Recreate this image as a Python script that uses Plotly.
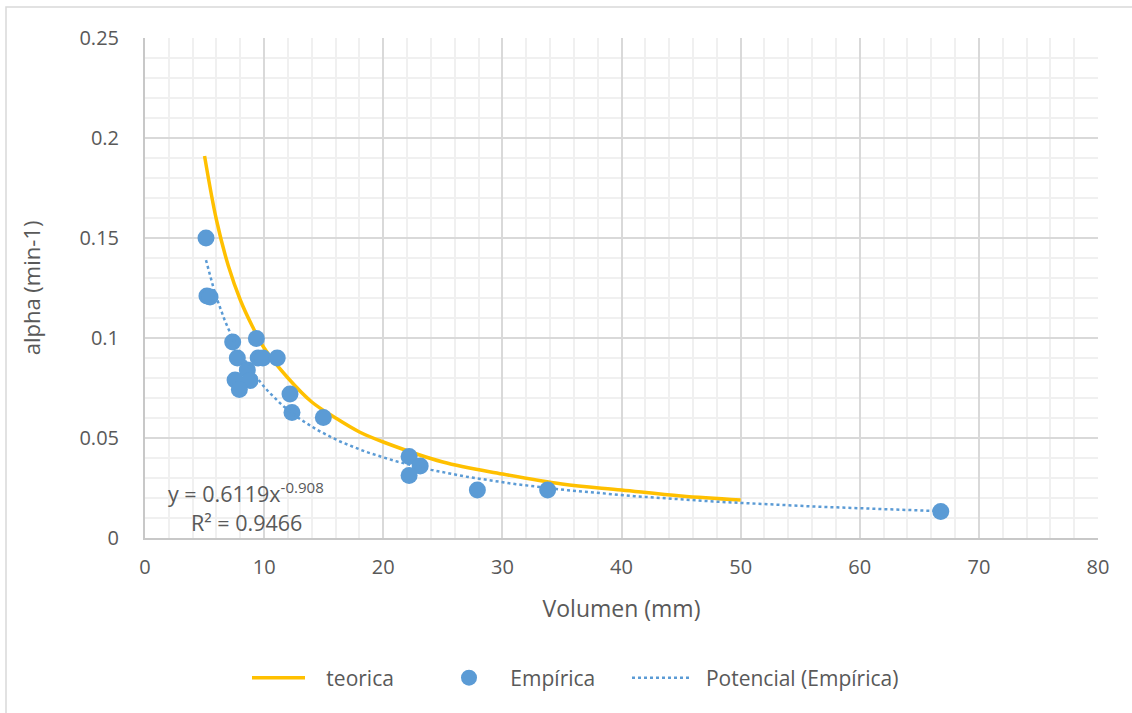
import numpy as np
import plotly.graph_objects as go

# Empirical data (Volumen mm, alpha min-1)
emp_x = [5.12, 5.2, 5.46, 7.36, 9.35, 7.75, 9.5, 9.9, 11.1, 8.59, 7.56, 8.82, 7.92,
         12.17, 12.34, 14.97, 22.17, 23.1, 22.17, 27.9, 33.8, 66.8]
emp_y = [0.150, 0.121, 0.1205, 0.098, 0.0998, 0.090, 0.090, 0.090, 0.090, 0.084, 0.079,
         0.0787, 0.0743, 0.072, 0.0627, 0.0603, 0.0407, 0.036, 0.0312, 0.024, 0.024, 0.0133]

# Theoretical curve
teo_x = [5, 6, 7, 8, 9, 10, 12, 14, 16, 18, 20, 25, 30, 35, 40, 45, 50]
teo_y = [0.191, 0.159, 0.136, 0.119, 0.106, 0.095, 0.080, 0.068, 0.060, 0.053, 0.048,
         0.038, 0.032, 0.027, 0.024, 0.021, 0.019]

eq_text = "y = 0.6119x<sup>-0.908</sup>"
r2_text = "R² = 0.9466"

# Power trendline fitted to the empirical data (log-log regression)
lx = np.log(emp_x)
ly = np.log(emp_y)
b, ln_a = np.polyfit(lx, ly, 1)
tr_x = np.linspace(min(emp_x), max(emp_x), 200)
tr_y = np.exp(ln_a) * tr_x ** b

FONT = "Open Sans"
GREY = "#595959"
BLUE = "#5b9bd5"
NB = "\u00a0"

W, H = 1132, 713
L, R, T, B = 145, 34, 38, 175
pw, ph = W - L - R, H - T - B


def px2paper(px, py):
    return (px - L) / pw, (H - B - py) / ph


fig = go.Figure()
fig.add_trace(go.Scatter(x=teo_x, y=teo_y, mode="lines", name=NB * 3 + "teorica",
                         line=dict(color="#ffc000", width=3.5, shape="spline"),
                         legend="legend"))
fig.add_trace(go.Scatter(x=emp_x, y=emp_y, mode="markers", name=NB * 3 + "Empírica",
                         marker=dict(color=BLUE, size=17), legend="legend2"))
fig.add_trace(go.Scatter(x=tr_x, y=tr_y, mode="lines", name=NB * 2 + "Potencial (Empírica)",
                         line=dict(color=BLUE, width=2.5, dash="dot"), legend="legend3"))

x0, y0 = px2paper(6, 7)
x1, y1 = px2paper(1160, 740)
ly_ = px2paper(0, 678)[1]

leg_common = dict(orientation="h", yanchor="middle", xanchor="left", y=ly_,
                  font=dict(size=21, color=GREY, family=FONT),
                  bgcolor="rgba(0,0,0,0)", borderwidth=0)

axis_font = dict(size=20, color=GREY, family=FONT)

fig.update_layout(
    width=W, height=H,
    margin=dict(l=L, r=R, t=T, b=B),
    paper_bgcolor="white", plot_bgcolor="white",
    font=dict(family=FONT, color=GREY, size=20),
    showlegend=True,
    legend=dict(x=px2paper(247, 0)[0], itemwidth=53, **leg_common),
    legend2=dict(x=px2paper(444, 0)[0], itemwidth=40, **leg_common),
    legend3=dict(x=px2paper(627, 0)[0], itemwidth=58, **leg_common),
    xaxis=dict(range=[0, 80], dtick=10, tick0=0, showgrid=True, gridcolor="#d9d9d9",
               gridwidth=2, zeroline=False, showline=True, linecolor="#c8c8c8",
               linewidth=2, ticks="", tickfont=axis_font, ticklabelstandoff=10,
               minor=dict(dtick=2, showgrid=True, gridcolor="#f0f0f0", gridwidth=2),
               title=dict(text="Volumen (mm)", font=dict(size=23, color=GREY), standoff=22)),
    yaxis=dict(range=[0, 0.25], dtick=0.05, tick0=0, showgrid=True, gridcolor="#d9d9d9",
               gridwidth=2, zeroline=False, showline=True, linecolor="#c8c8c8",
               linewidth=2, ticks="", tickfont=axis_font, ticklabelstandoff=20,
               minor=dict(dtick=0.01, showgrid=True, gridcolor="#f0f0f0", gridwidth=2),
               title=dict(text="alpha (min-1)", font=dict(size=22, color=GREY), standoff=33)),
    shapes=[dict(type="rect", xref="paper", yref="paper", x0=x0, y0=y1, x1=x1, y1=y0,
                 line=dict(color="#d9d9d9", width=1.5), fillcolor="rgba(0,0,0,0)",
                 layer="below")],
)

ex, ey = px2paper(166, 492)
fig.add_annotation(x=ex, y=ey, xref="paper", yref="paper", text=eq_text, showarrow=False,
                   xanchor="left", yanchor="middle", font=dict(size=21.5, color=GREY))
rx, ry = px2paper(189, 522)
fig.add_annotation(x=rx, y=ry, xref="paper", yref="paper", text=r2_text, showarrow=False,
                   xanchor="left", yanchor="middle", font=dict(size=21.5, color=GREY))

fig.write_html("out.html")
